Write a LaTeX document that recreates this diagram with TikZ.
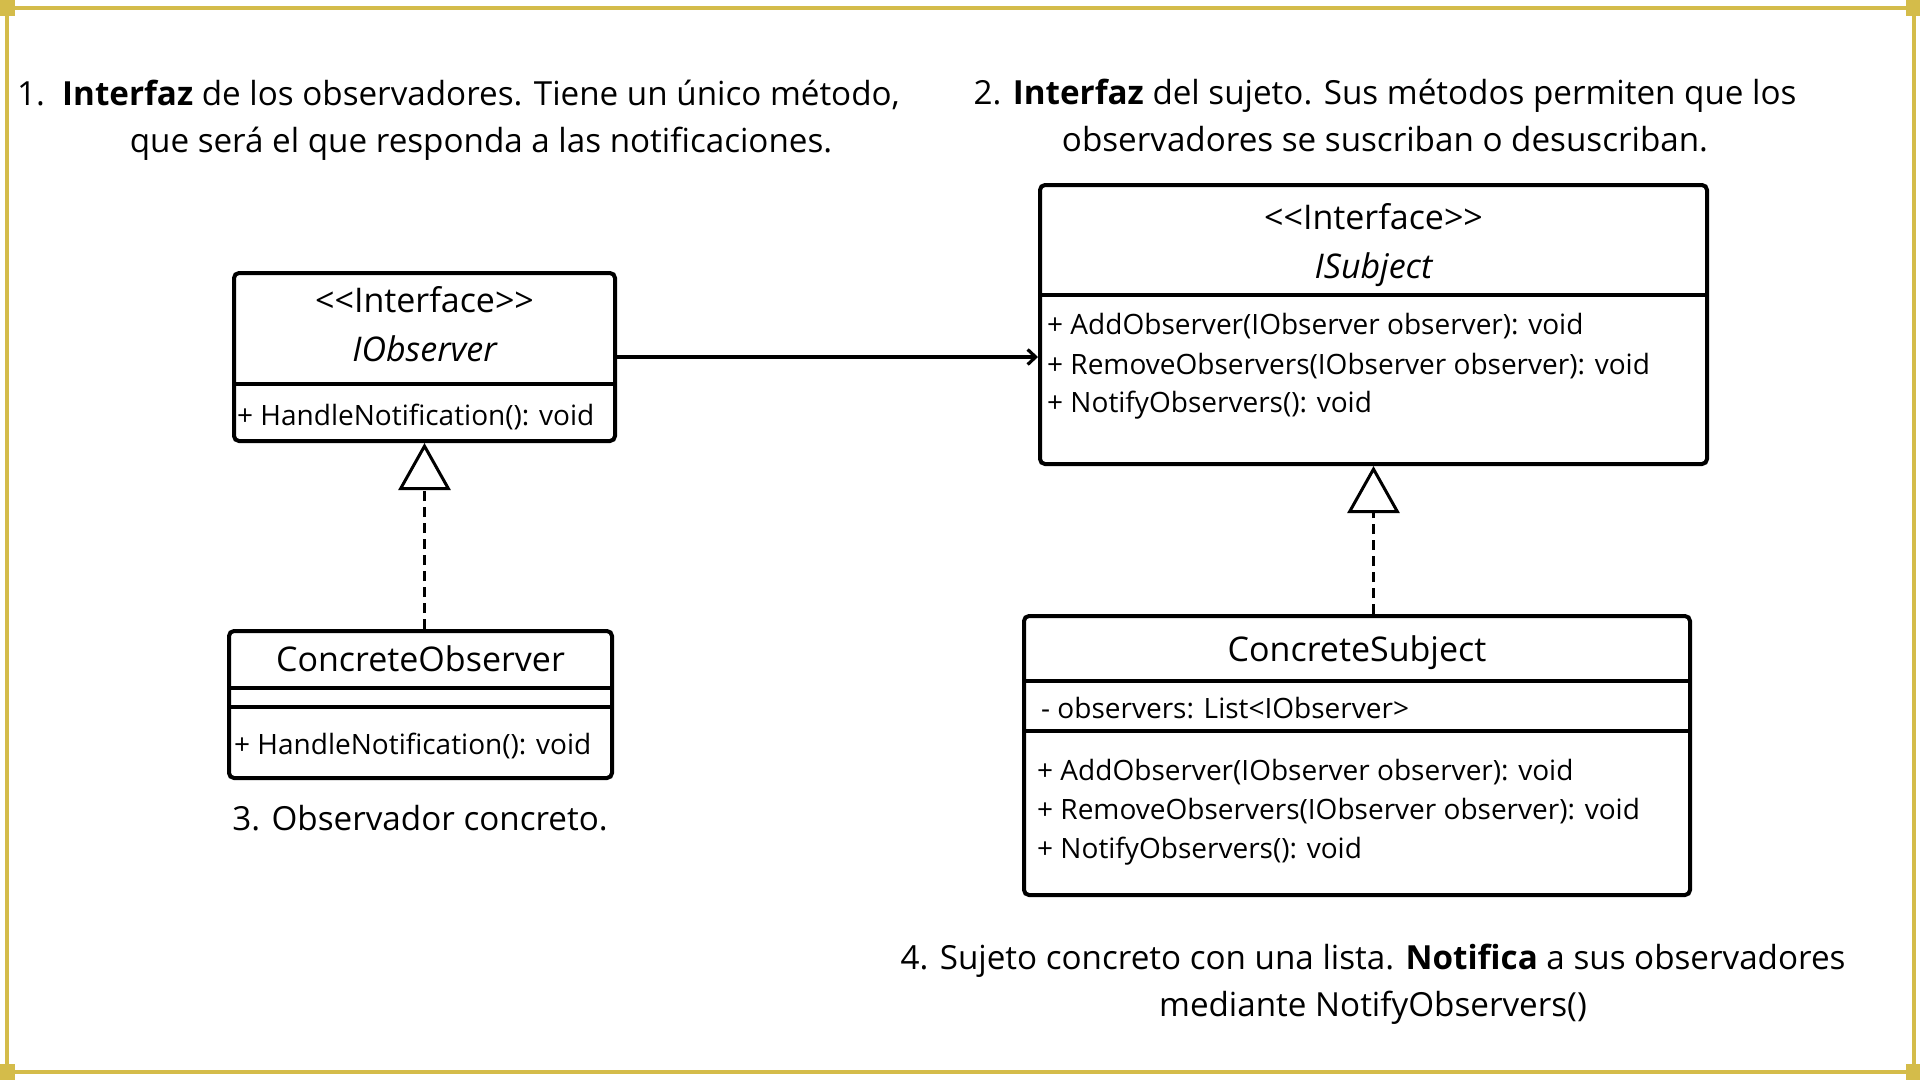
\documentclass[tikz,border=0pt]{standalone}
\usepackage{fontspec}
\setmainfont{Open Sans}
\usepackage{tikz}
\usetikzlibrary{arrows.meta, positioning}

\definecolor{framegold}{RGB}{212,188,74}

\tikzset{
  classbox/.style={draw, line width=4pt, rounded corners=5pt, inner sep=0pt},
  divider/.style={line width=4pt},
  member/.style={anchor=west, inner sep=0pt, font=\fontsize{28}{34}\selectfont},
  clstitle/.style={inner sep=0pt, font=\fontsize{34}{40}\selectfont},
  caption/.style={align=center, inner sep=0pt, font=\fontsize{33.2}{47}\selectfont},
  realize/.style={line width=3pt, dash pattern=on 10pt off 6pt, -{Triangle[open, length=47pt, width=52pt]}},
  assoc/.style={line width=3.2pt, -{Straight Barb[length=8pt, width=15pt]}},
}

\begin{document}
\begin{tikzpicture}[x=1pt, y=-1pt]
          \useasboundingbox (0,0) rectangle (1920,1080);

          % frame
          \draw[framegold, line width=4pt] (7,8) rectangle (1914,1072);
          \foreach \cx/\cy in {7/8, 1914/8, 7/1072, 1914/1072}
              \fill[framegold] (\cx-8,\cy-8) rectangle (\cx+8,\cy+8);

          % classes
          \node (iobs) [classbox, minimum width=381pt, minimum height=168pt] at (424.5,357) {};
          \node (isub) [classbox, minimum width=667pt, minimum height=279pt] at (1373.5,324.5) {};
          \node (cobs) [classbox, minimum width=383pt, minimum height=147pt] at (420.5,704.5) {};
          \node (csub) [classbox, minimum width=666pt, minimum height=279pt] at (1357,755.5) {};

          \draw[divider] (iobs.west |- 0,384) -- (iobs.east |- 0,384);
          \draw[divider] (isub.west |- 0,295) -- (isub.east |- 0,295);
          \draw[divider] (cobs.west |- 0,688) -- (cobs.east |- 0,688);
          \draw[divider] (cobs.west |- 0,707) -- (cobs.east |- 0,707);
          \draw[divider] (csub.west |- 0,681) -- (csub.east |- 0,681);
          \draw[divider] (csub.west |- 0,731) -- (csub.east |- 0,731);

          \node (iobs-st) [clstitle] at (424.5,300) {{<}{<}Interface{>}{>}};
          \node (iobs-nm) [clstitle, below=22pt of iobs-st] {\itshape IObserver};
          \node (iobs-m1) [member] at (237,416.5) {+ HandleNotification(): void};

          \node (isub-st) [clstitle] at (1373.5,217) {{<}{<}Interface{>}{>}};
          \node (isub-nm) [clstitle, below=22pt of isub-st] {\itshape ISubject};
          \node (isub-m1) [member] at (1047,326.5) {+ AddObserver(IObserver observer): void};
          \node (isub-m2) [member] at (1047,366) {+ RemoveObservers(IObserver observer): void};
          \node (isub-m3) [member] at (1047,405.5) {+ NotifyObservers(): void};

          \node (cobs-nm) [clstitle] at (420.5,659) {ConcreteObserver};
          \node (cobs-m1) [member] at (234,745.5) {+ HandleNotification(): void};

          \node (csub-nm) [clstitle] at (1357,652.5) {ConcreteSubject};
          \node (csub-a1) [member] at (1041,708) {- observers: List<IObserver>};
          \node (csub-m1) [member] at (1037,772.5) {+ AddObserver(IObserver observer): void};
          \node (csub-m2) [member] at (1037,811.5) {+ RemoveObservers(IObserver observer): void};
          \node (csub-m3) [member] at (1037,851.5) {+ NotifyObservers(): void};

          % captions
          \node (cap1) [caption] at (481,120) {1.\ \ \textbf{Interfaz} de los observadores. Tiene un único método,\hspace*{45pt}\\que será el que responda a las notificaciones.};
          \node (cap2) [caption] at (1385,116) {2. \textbf{Interfaz} del sujeto. Sus métodos permiten que los\\observadores se suscriban o desuscriban.};
          \node (cap3) [caption] at (420,818) {3. Observador concreto.};
          \node (cap4) [caption] at (1373,984) {4. Sujeto concreto con una lista. \textbf{Notifica} a sus observadores\\mediante NotifyObservers()};

          % relations
          \draw[assoc] (iobs.east) -- (isub.west |- iobs.east);
          \draw[realize] (cobs.north -| iobs.south) -- (iobs.south);
          \draw[realize] (csub.north -| isub.south) -- (isub.south);
\end{tikzpicture}
\end{document}
